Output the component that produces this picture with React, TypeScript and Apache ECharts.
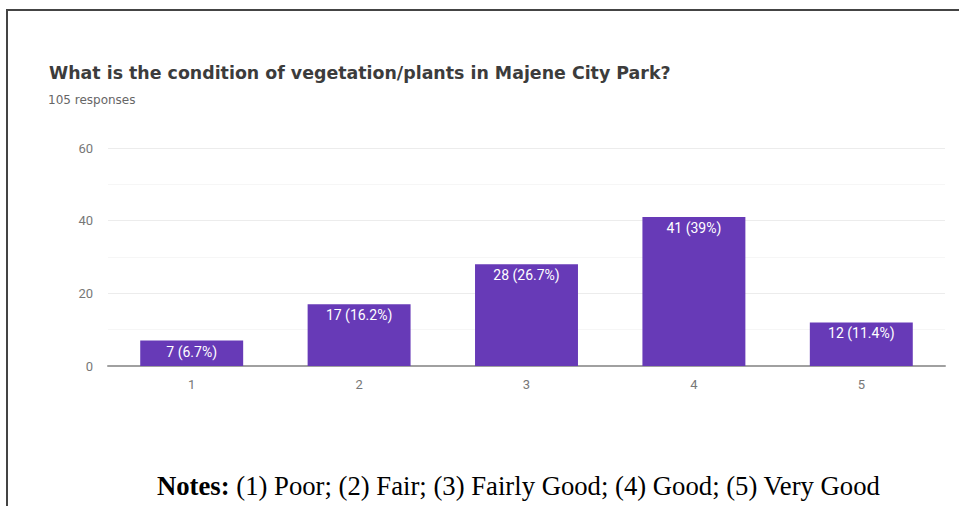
import React, { useEffect, useRef } from "react";
import * as echarts from "echarts";

const categories = ["1", "2", "3", "4", "5"];
const counts = [7, 17, 28, 41, 12];
const percents = ["6.7%", "16.2%", "26.7%", "39%", "11.4%"];
const yTicks = { min: 0, max: 60, interval: 20 };
const titleText = "What is the condition of vegetation/plants in Majene City Park?";
const subtitleText = "105 responses";
const notesText = " (1) Poor; (2) Fair; (3) Fairly Good; (4) Good; (5) Very Good";

export default function App() {
  const ref = useRef<HTMLDivElement>(null);
  useEffect(() => {
    if (!ref.current) return;
    const chart = echarts.init(ref.current, null, { renderer: "svg" });
    chart.setOption({
      animation: false,
      backgroundColor: "#ffffff",
      grid: { left: 108, right: 14, top: 148, bottom: 140, containLabel: false },
      xAxis: {
        type: "category",
        data: categories,
        axisLine: { show: true, lineStyle: { color: "#a0a0a0", width: 2 } },
        axisTick: { show: false },
        axisLabel: { color: "#777", fontFamily: "Roboto", fontSize: 13, margin: 12 },
      },
      yAxis: {
        type: "value",
        min: yTicks.min,
        max: yTicks.max,
        interval: yTicks.interval,
        axisLine: { show: false },
        axisTick: { show: false },
        axisLabel: { color: "#777", fontFamily: "Roboto", fontSize: 13, margin: 15 },
        splitLine: { show: true, lineStyle: { color: "#ececec", width: 1 } },
        minorTick: { show: false, splitNumber: 2 },
        minorSplitLine: { show: true, lineStyle: { color: "#f6f6f6", width: 1 } },
      },
      series: [
        {
          type: "bar",
          data: counts,
          barWidth: "61.5%",
          itemStyle: { color: "#673ab7" },
          label: {
            show: true,
            position: "insideTop",
            distance: 4,
            color: "#ffffff",
            fontFamily: "Roboto",
            fontSize: 14,
            formatter: (p: any) => `${p.value} (${percents[p.dataIndex]})`,
          },
        },
      ],
      graphic: [
        {
          type: "line",
          shape: { x1: 7, y1: 10, x2: 959, y2: 10 },
          style: { stroke: "#444", lineWidth: 2 },
        },
        {
          type: "line",
          shape: { x1: 7, y1: 9, x2: 7, y2: 506 },
          style: { stroke: "#444", lineWidth: 2 },
        },
        {
          type: "text",
          x: 49,
          y: 73,
          style: {
            text: titleText,
            fontFamily: "DejaVu Sans",
            fontWeight: "bold",
            fontSize: 17.4,
            fill: "#3c3c3c",
            verticalAlign: "middle",
            align: "left",
          },
        },
        {
          type: "text",
          x: 48,
          y: 100,
          style: {
            text: subtitleText,
            fontFamily: "DejaVu Sans",
            fontSize: 12,
            fill: "#666",
            verticalAlign: "middle",
            align: "left",
          },
        },
        {
          type: "text",
          x: 157,
          y: 486,
          style: {
            text: "{b|Notes:}" + notesText,
            fontFamily: "Liberation Serif",
            fontSize: 26.7,
            fill: "#000",
            verticalAlign: "middle",
            align: "left",
            rich: {
              b: { fontFamily: "Liberation Serif", fontSize: 26.7, fontWeight: "bold", fill: "#000" },
            },
          },
        },
      ],
    });
    return () => chart.dispose();
  }, []);
  return (
    <div
      ref={ref}
      style={{ position: "fixed", left: 0, top: 0, width: 959, height: 506 }}
    />
  );
}
